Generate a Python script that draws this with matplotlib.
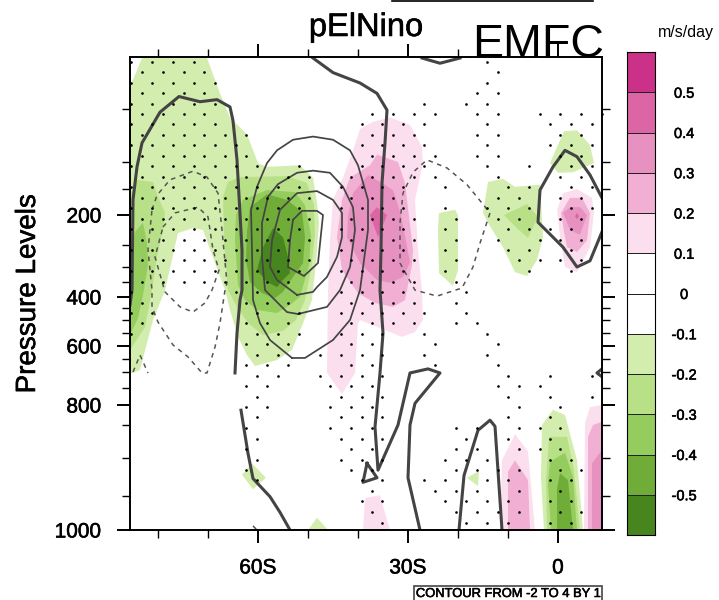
import numpy as np
import matplotlib
matplotlib.use('Agg')
import matplotlib.pyplot as plt
import matplotlib.patheffects as pe
from matplotlib.colors import ListedColormap, BoundaryNorm
from matplotlib.lines import Line2D

plt.rcParams['font.family'] = ['Liberation Sans', 'DejaVu Sans']

# axis levels and where they sit on the (irregular) vertical scale
PLEV = [0, 50, 100, 150, 200, 250, 300, 350, 400, 450, 500, 550, 600, 650, 700, 750, 800, 850, 900, 950, 1000]
PPOS = [0, 52, 105, 132, 158, 188, 210, 225, 240, 251, 263, 276, 289, 302, 315, 331, 348, 368, 401, 439, 473]

LEVELS = [-0.6, -0.5, -0.4, -0.3, -0.2, -0.1, 0, 0.1, 0.2, 0.3, 0.4, 0.5, 0.6]
BAR_COLORS = ['#47851F', '#70AD38', '#94CC5D', '#B8E187', '#D3EDAE', '#FFFFFF',
              '#FFFFFF', '#FCDFEF', '#F0AFD3', '#E691C0', '#DC65A5', '#CB3189']

# shaded regions: (latitude, pressure), one list per closed region
G1_WEST = [(-85.6, 29), (-83.2, 1), (-70.2, 1), (-67.6, 35), (-65.6, 58), (-62.2, 74), (-60, 102), (-58.2, 109),
           (-51.6, 106), (-49, 129), (-48.2, 177), (-47.8, 213), (-48.4, 291), (-49.2, 414), (-51, 512), (-53.2, 615),
           (-56.2, 654), (-60.6, 677), (-62.2, 635), (-64, 565), (-65.6, 458), (-66.6, 377), (-71, 225), (-73, 222),
           (-76, 230), (-78.6, 377), (-81, 500), (-83.6, 692), (-85, 703), (-85.6, 703)]
G1_BLOB = [(-63.2, 922), (-61.2, 907), (-58.4, 926), (-61, 941)]
G1_FLOOR = [(-50, 1000), (-48.2, 982), (-46, 1000)]
G1_BAR = [(-23.8, 196), (-20.6, 190), (-20, 200), (-20, 310), (-21, 363), (-23.8, 320), (-24, 225)]
G1_TROP = [(-15, 196), (-14, 137), (-11, 131), (-8.6, 146), (-3.6, 142), (-3, 237), (-4.2, 284), (-6.2, 330),
           (-8.6, 317), (-11, 255), (-14, 213)]
G1_TOP = [(-1.6, 102), (1.2, 71), (3.8, 70), (6.4, 84), (7.2, 102), (3, 119), (0, 120)]
G1_TRI = [(-18.2, 926), (-15.8, 917), (-16, 937)]
G1_EQ = [(-3.2, 850), (-1, 812), (1.4, 825), (3.8, 903), (5, 1000), (-2.8, 1000), (-3.4, 925)]

G2_WEST = [(-85.6, 162), (-84.2, 133), (-81, 137), (-80, 165), (-78.6, 196), (-79, 225), (-80.2, 277), (-81.2, 377),
           (-82.6, 527), (-85.2, 604), (-85.6, 615)]
G2_EAST = [(-66, 137), (-63.6, 128), (-54.2, 126), (-50.2, 139), (-48.8, 181), (-48.6, 233), (-49.4, 310),
           (-50.6, 414), (-52.4, 500), (-55, 542), (-59, 558), (-62, 512), (-64.2, 445), (-66, 377), (-66.8, 242),
           (-67, 165)]
G2_TROP = [(-10.8, 200), (-6.2, 179), (-4, 203), (-6, 238), (-8.2, 222)]
G2_EQ = [(-1.8, 868), (1.8, 868), (3.2, 916), (4.4, 1000), (-2.2, 1000), (-2.4, 929)]

G3_WEST = [(-85.6, 273), (-84.6, 228), (-83, 213), (-82.2, 247), (-82, 295), (-83, 393), (-84, 492), (-85.6, 558)]
G3_EAST = [(-63, 171), (-58.2, 152), (-52.6, 156), (-50.6, 181), (-49.4, 233), (-49.8, 295), (-51.6, 400),
           (-53.6, 436), (-56.2, 471), (-60.2, 458), (-62.6, 414), (-64, 360), (-64.6, 242), (-64.4, 200)]
G3_EQ = [(-1.6, 905), (1.4, 892), (3, 925), (3.8, 1000), (-1.4, 1000), (-2, 933)]

G4_EAST = [(-61.6, 185), (-58.2, 160), (-54.2, 171), (-51.2, 194), (-50.6, 237), (-51, 291), (-53, 333), (-55, 383),
           (-56.6, 405), (-59.2, 387), (-61.6, 350), (-62.4, 284), (-62.2, 228)]
G4_EQ = [(0.4, 920), (2, 929), (3, 1000), (-0.2, 1000), (-0.2, 941)]

G5_EAST = [(-57, 222), (-55, 237), (-54, 277), (-53.6, 320), (-55, 343), (-56.2, 367), (-58.2, 350), (-60.2, 310),
           (-59, 255)]

P1_MAIN = [(-37, 62), (-33.6, 58), (-29.6, 65), (-27.2, 86), (-27, 102), (-28.6, 171), (-28, 261), (-27.2, 377),
           (-27, 500), (-28.6, 546), (-31.2, 565), (-35.6, 531), (-39.6, 500), (-40, 512), (-40.6, 703), (-43.2, 768),
           (-46.2, 703), (-46, 377), (-45.6, 242), (-45, 171), (-43, 129), (-41, 89), (-39.6, 69)]
P1_EQ = [(-0.2, 190), (1, 158), (3.8, 150), (6.8, 167), (7.2, 196), (6.4, 255), (3.8, 317), (1.4, 300), (0.4, 237)]
P1_LOW = [(-38.6, 953), (-35.6, 949), (-33.6, 1000), (-39, 1000)]
P1_COL = [(-11.2, 903), (-8.6, 864), (-6, 890), (-4.6, 1000), (-11.6, 1000)]
P1_EDGE = [(5.2, 1000), (5.4, 845), (6.4, 805), (8.8, 800), (8.8, 1000)]

P2_MAIN = [(-36.2, 93), (-32, 100), (-30.6, 139), (-29, 261), (-29.2, 295), (-30.2, 377), (-30.6, 414), (-33, 445),
           (-36.6, 427), (-40, 387), (-43.2, 310), (-44.2, 237), (-43.2, 171), (-41.6, 129), (-37.6, 106)]
P2_EQ = [(0.6, 196), (2.4, 167), (4.8, 167), (6.4, 196), (5.8, 242), (3.8, 266), (1.8, 255), (1.2, 228)]
P2_COL = [(-10, 918), (-8.6, 903), (-6, 929), (-5.6, 1000), (-10, 1000)]
P2_EDGE = [(6, 1000), (6, 868), (7, 850), (8.8, 842), (8.8, 1000)]

P3_MAIN = [(-35.6, 137), (-33, 152), (-31.4, 200), (-29.6, 290), (-31, 333), (-33.6, 353), (-36.2, 343), (-39.6, 291),
           (-42.2, 237), (-42, 203), (-41, 158), (-38, 124)]
P3_EQ = [(1, 196), (2.4, 185), (4.4, 185), (5.8, 200), (4.4, 233), (2.4, 225)]
P3_EDGE = [(6.8, 1000), (6.8, 907), (8.8, 888), (8.8, 1000)]

P4_MAIN = [(-36.2, 185), (-34.2, 200), (-36, 237), (-37.6, 200)]
P4_EQ = [(3.4, 202), (3.8, 196), (4.2, 202), (3.8, 207)]

# thick zero contours
ZERO_WEST = [(-85.6, 436), (-85.2, 377), (-85, 171), (-84.2, 109), (-83.2, 82), (-79.6, 53), (-75.8, 38), (-71.6, 43),
             (-68.2, 41), (-65.6, 48), (-65, 61), (-64.2, 98), (-63.2, 261), (-63.2, 377), (-63.6, 414), (-64.2, 550),
             (-64.6, 703)]
ZERO_MID = [(-49, 1), (-45, 15), (-39.6, 25), (-36.2, 35), (-34.2, 51), (-34.6, 82), (-35.2, 139), (-35.4, 261),
            (-35.6, 377), (-35, 550), (-35.6, 703), (-36.6, 853), (-36, 916), (-32, 850), (-29.6, 703), (-26, 688),
            (-23.6, 703), (-28.6, 795), (-29.6, 850), (-30, 926), (-27.6, 1000)]
ZERO_TRI = [(-38.2, 907), (-36.2, 926), (-39, 932), (-38.2, 907)]
ZERO_HUMP = [(-19.8, 1000), (-18.8, 923), (-16, 858), (-13.6, 838), (-12.6, 852), (-11.2, 1000)]
ZERO_LOW = [(-63.4, 813), (-62, 893), (-61, 927), (-57.6, 951), (-55.6, 974), (-53.6, 1000)]
ZERO_EQ = [(8.8, 167), (6.4, 124), (3.8, 95), (1.4, 89), (-1, 109), (-3.6, 152), (-4, 212), (1, 255), (3.8, 300),
           (6.4, 286), (8.8, 228)]
ZERO_ARC = [(-27.2, 1), (-23.6, 6), (-19.6, 1)]
ZERO_TIP = [(8.8, 688), (7.8, 703), (8.8, 715)]

# thin positive contours
POS_1 = [(-53.2, 646), (-50.6, 646), (-45, 577), (-41.6, 500), (-39.6, 377), (-38, 225), (-38, 171), (-40, 106),
         (-41.6, 89), (-45, 79), (-49, 76), (-53, 79), (-56.2, 89), (-58.2, 102), (-60.2, 146), (-61.4, 190),
         (-61.2, 261), (-61, 414), (-59.6, 512), (-57.6, 577), (-53.2, 646)]
POS_2 = [(-52, 475), (-54.2, 467), (-58.6, 377), (-59.2, 277), (-59.2, 213), (-58, 165), (-56, 141), (-52.2, 120),
         (-49, 116), (-45.6, 120), (-43, 146), (-41, 185), (-40.6, 225), (-41.6, 300), (-43.6, 377), (-46.2, 445),
         (-52, 475)]
POS_3 = [(-52.2, 393), (-56.2, 343), (-57.6, 300), (-57.2, 242), (-55.6, 190), (-52.2, 158), (-48.2, 154), (-45, 171),
         (-43.2, 196), (-43.2, 237), (-44.2, 277), (-46.2, 333), (-48.2, 367), (-49, 383), (-52.2, 393)]
POS_4 = [(-53, 208), (-51.2, 192), (-48.2, 192), (-47, 200), (-48, 291), (-50.8, 330), (-54, 300), (-53.6, 242),
         (-53, 208)]

# thin dashed negative contours
NEG_1 = [(-81.2, 190), (-80.2, 162), (-77.6, 133), (-73, 117), (-70.2, 128), (-68, 158), (-67.2, 225), (-66.2, 353),
         (-66.6, 377), (-67.6, 512), (-68.6, 604), (-70.2, 703), (-71.2, 703), (-74, 642), (-77, 596), (-80, 508),
         (-81.2, 445), (-81.2, 377), (-82, 261), (-81.2, 190)]
NEG_2 = [(-79, 220), (-76.6, 196), (-72, 185), (-70, 203), (-69, 261), (-67.8, 310), (-69.2, 377), (-70.6, 427),
         (-73, 467), (-75.6, 445), (-78.6, 383), (-80.6, 277), (-79, 220)]
NEG_3 = [(-31.6, 213), (-31, 158), (-29, 119), (-26.2, 98), (-22.2, 111), (-18.2, 142), (-13.6, 196), (-15.6, 247),
         (-17, 300), (-19.2, 370), (-24.2, 397), (-28.6, 377), (-31.6, 291), (-31.6, 213)]
NEG_HOOK = [(-85, 700), (-83.6, 635), (-82, 703)]
NEG_FOOT = [(-61, 994), (-60.2, 1000)]

# stippling: staggered lattice, pressure of each row and the columns marked in it
STIP_P = [4.5, 14.6, 24.6, 34.7, 44.8, 54.8, 64.6, 74.5, 84.4, 94.2, 108, 128, 147, 167, 187, 206, 224, 241, 262, 285,
          314, 349, 383, 425, 471, 513, 553, 594, 634, 674, 712, 744, 776, 805, 831, 855, 871, 886, 902, 916, 929, 943,
          958, 973, 989]
STIP_LAT0 = -85.36
STIP_DLAT = 2.094
EV = [0, 2, 4, 6, 8, 10, 12, 14, 16]
OD = [1, 3, 5, 7, 9, 11, 13, 15, 17]
STIP_COLS = [
    [0, 2, 4, 6, 34],
    [1, 3, 5, 7, 35],
    [0, 2, 4, 6, 8, 34],
    [1, 3, 5, 7, 33, 35],
    [0, 2, 4, 6, 8, 28, 32, 34],
    [1, 3, 5, 7, 23, 25, 27, 29, 33, 35, 39, 41, 43, 45],
    [0, 2, 4, 6, 8, 22, 24, 26, 28, 34, 40, 42, 44],
    [1, 3, 5, 7, 9, 11, 23, 25, 27, 33, 35, 41, 43],
    [0, 2, 4, 6, 8, 10, 22, 24, 26, 28, 34, 40, 42, 44],
    [1, 3, 5, 7, 9, 11, 23, 25, 27, 29, 33, 35, 41, 43],
    [0, 2, 4, 6, 8, 10, 12, 16, 22, 24, 26, 28, 34, 38, 42, 44],
    [1, 3, 5, 7, 9, 11, 15, 17, 21, 23, 25, 27, 29, 35, 41, 43],
    EV + [20, 22, 24, 26, 30, 36, 38, 42, 44],
    OD + [21, 23, 25, 35, 37, 41, 43],
    EV + [20, 22, 24, 26, 30, 34, 36, 38, 42, 44],
    OD + [21, 23, 25, 27, 31, 35, 37, 41, 43],
    EV + [20, 22, 24, 26, 30, 36, 38, 40, 42],
    OD + [21, 23, 25, 27, 31, 35, 39, 41, 43],
    EV + [20, 22, 24, 26, 30, 36, 38, 42],
    OD + [21, 23, 25, 27, 31, 37, 39, 41, 43],
    EV + [20, 22, 24, 26, 30, 38, 42],
    [1, 3, 5, 7, 9, 11, 13, 15, 21, 23, 25, 27, 31],
    [0, 10, 12, 20, 22, 24, 26, 32],
    [1, 11, 13, 15, 21, 23, 25, 27, 31],
    [0, 2, 12, 16, 20, 22, 24, 26, 28, 32],
    [1, 11, 13, 15, 21, 23, 25, 27, 31, 33],
    [0, 12, 14, 16, 20, 22, 24, 28, 34],
    [11, 13, 15, 21, 23, 29, 35],
    [12, 14, 18, 20, 22, 24, 28, 34],
    [11, 13, 15, 21, 23, 29, 35],
    [12, 14, 18, 20, 22, 24, 36, 40, 44],
    [11, 13, 19, 21, 23, 35, 37, 39],
    [12, 20, 22, 24, 36, 40, 44],
    [11, 13, 19, 21, 23, 37, 41],
    [12, 20, 22, 24, 36, 40],
    [11, 19, 21, 23, 31, 33, 37, 39, 41],
    [12, 20, 22, 24, 32, 36, 40],
    [11, 21, 23, 31, 33, 37, 39, 41],
    [12, 20, 22, 24, 30, 32, 34, 40, 42],
    [11, 21, 23, 31, 33, 35, 37, 41, 43],
    [12, 22, 24, 28, 30, 34, 36, 40, 42],
    [23, 29, 31, 33, 37, 41],
    [22, 24, 30, 32, 34, 36, 40, 42],
    [23, 31, 33, 35, 37, 41, 43],
    [24, 32, 34, 36, 40, 42],
]

XT_MAJOR = [-60, -30, 0]
XT_LABELS = ['60S', '30S', '0']
XT_MINOR = [-80, -70, -50, -40, -20, -10]
YT_MAJOR = [200, 400, 600, 800, 1000]
YT_MINOR = [50, 100, 150, 250, 300, 350, 450, 500, 550, 650, 700, 750, 850, 900, 950]

HEAVY = [pe.withStroke(linewidth=0.4, foreground='black')]


def to_pos(p):
    return np.interp(p, PLEV, PPOS)


def from_pos(y):
    return np.interp(y, PPOS, PLEV)


def shade(ax, regions, color, z):
    for reg in regions:
        lat, p = zip(*reg)
        ax.fill(lat, p, color=color, lw=0, zorder=z)


def lines(ax, paths, lw, ls='-', color='#444444'):
    for path in paths:
        lat, p = zip(*path)
        ax.plot(lat, p, color=color, lw=lw, ls=ls, solid_joinstyle='round', zorder=6)


W, H = 719, 600
fig = plt.figure(figsize=(W / 100, H / 100), dpi=100)
ax = fig.add_axes([130 / W, 1 - 530 / H, 472 / W, 473 / H])
ax.set_yscale('function', functions=(to_pos, from_pos))
ax.set_xlim(-85.6, 8.8)
ax.set_ylim(1000, 0)

shade(ax, [G1_WEST, G1_BLOB, G1_FLOOR, G1_BAR, G1_TROP, G1_TOP, G1_TRI, G1_EQ], BAR_COLORS[4], 1)
shade(ax, [G2_WEST, G2_EAST, G2_TROP, G2_EQ], BAR_COLORS[3], 2)
shade(ax, [G3_WEST, G3_EAST, G3_EQ], BAR_COLORS[2], 3)
shade(ax, [G4_EAST, G4_EQ], BAR_COLORS[1], 4)
shade(ax, [G5_EAST], BAR_COLORS[0], 5)
shade(ax, [P1_MAIN, P1_EQ, P1_LOW, P1_COL, P1_EDGE], BAR_COLORS[7], 1)
shade(ax, [P2_MAIN, P2_EQ, P2_COL, P2_EDGE], BAR_COLORS[8], 2)
shade(ax, [P3_MAIN, P3_EQ, P3_EDGE], BAR_COLORS[9], 3)
shade(ax, [P4_MAIN, P4_EQ], BAR_COLORS[10], 4)

lines(ax, [ZERO_WEST, ZERO_MID, ZERO_TRI, ZERO_HUMP, ZERO_LOW, ZERO_EQ, ZERO_ARC, ZERO_TIP], 2.2)
lines(ax, [POS_1, POS_2, POS_3, POS_4], 1.25)
lines(ax, [NEG_1, NEG_2, NEG_3, NEG_HOOK, NEG_FOOT], 1.1, (0, (3, 3)), '#555555')

for row, cols in zip(STIP_P, STIP_COLS):
    lat = [STIP_LAT0 + STIP_DLAT * c for c in cols]
    ax.plot(lat, [row] * len(lat), ls='', marker='o', ms=1.9, mec='none', color='k', zorder=7, clip_on=False)

ax.set_xticks(XT_MAJOR, XT_LABELS)
ax.set_xticks(XT_MINOR, minor=True)
ax.set_yticks(YT_MAJOR, [str(v) for v in YT_MAJOR])
ax.set_yticks(YT_MINOR, minor=True)
ax.tick_params(axis='both', which='major', direction='out', length=9.5, width=1.4, labelsize=15,
               top=True, right=True)
ax.tick_params(axis='both', which='minor', direction='out', length=5.5, width=1.0,
               top=True, right=True)
ax.tick_params(axis='x', which='major', pad=11)
ax.tick_params(axis='y', which='major', pad=11)
for lab in ax.get_xticklabels() + ax.get_yticklabels():
    lab.set_path_effects(HEAVY)
for s in ax.spines.values():
    s.set_linewidth(1.4)
    s.set_zorder(8)

fig.text(28 / W, 1 - 294 / H, 'Pressure Levels', rotation=90, fontsize=20, ha='center', va='center',
         path_effects=HEAVY)
fig.text(366 / W, 1 - 36 / H, 'pElNino', fontsize=23.5, ha='center', va='baseline', path_effects=HEAVY)
fig.text(604 / W, 1 - 57 / H, 'EMFC', fontsize=33.5, ha='right', va='baseline', zorder=10)
fig.text(686 / W, 1 - 33 / H, 'm/s/day', fontsize=11.5, ha='center', va='center')
fig.text(508 / W, 1 - 594 / H, 'CONTOUR FROM -2 TO 4 BY 1', fontsize=9.3, ha='center', va='center',
         path_effects=HEAVY, bbox=dict(fc='white', ec='#444444', lw=1.2, boxstyle='square,pad=0.18'))
fig.add_artist(Line2D([392 / W, 593 / W], [1 - 1 / H, 1 - 1 / H], color='k', lw=1.2))

# label bar
cax = fig.add_axes([627 / W, 1 - 535 / H, 28 / W, 483 / H])
cmap = ListedColormap(BAR_COLORS)
norm = BoundaryNorm(LEVELS, cmap.N)
vals = np.array(LEVELS[:-1]) + 0.05
cax.pcolormesh([0, 1], LEVELS, vals.reshape(-1, 1), cmap=cmap, norm=norm, edgecolors='#222222', linewidth=0.7)
cax.set_xticks([])
cax.yaxis.tick_right()
cax.set_yticks(LEVELS[1:-1], ['%g' % v for v in LEVELS[1:-1]])
cax.tick_params(axis='y', length=0, pad=21, labelsize=10.5)
for lab in cax.get_yticklabels():
    lab.set_ha('center')
    lab.set_path_effects(HEAVY)
for s in cax.spines.values():
    s.set_linewidth(0.8)

fig.savefig('out.png', dpi=100)
